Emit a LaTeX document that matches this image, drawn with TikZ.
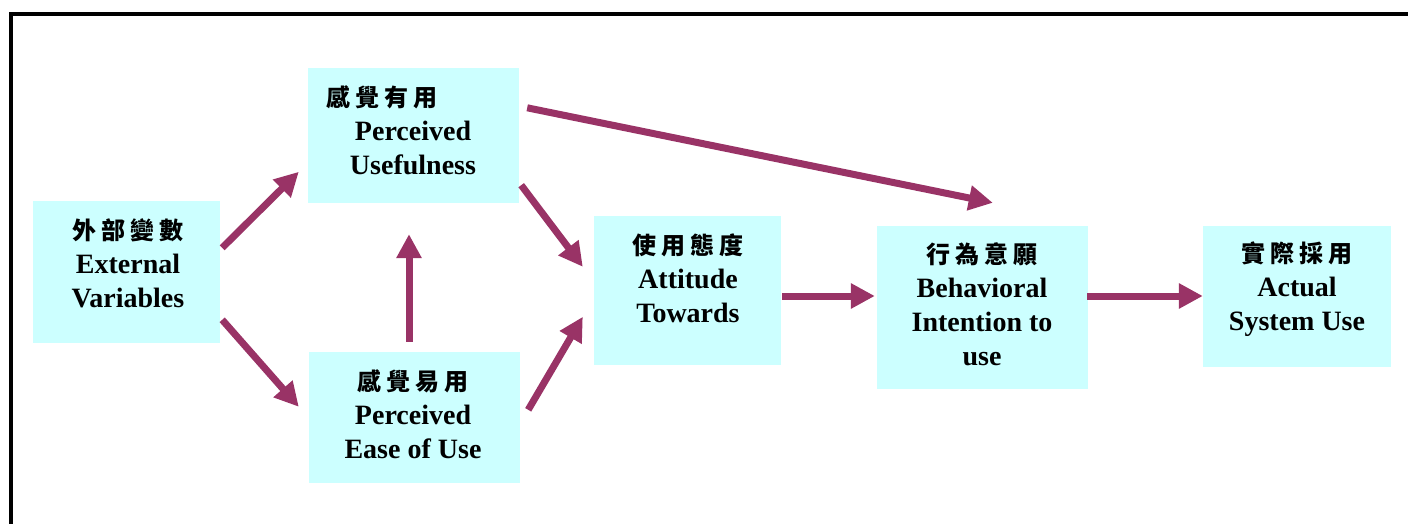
\documentclass[tikz,border=0pt]{standalone}
\usepackage{fontspec}
\setmainfont{Liberation Serif}
\newfontfamily\cjk{Noto Sans CJK TC}
\usetikzlibrary{arrows.meta,calc}
\definecolor{boxcyan}{HTML}{CCFFFF}
\definecolor{linkred}{HTML}{993366}
\newcommand{\zs}{\hspace{5pt}}
\newcommand{\zh}[1]{{\cjk\bfseries\fontsize{24}{34}\selectfont #1}}
\begin{document}
\begin{tikzpicture}[x=1pt,y=-1pt,
  box/.style={rectangle, fill=boxcyan, draw=none, inner sep=0pt},
  lbl/.style={anchor=base, align=center, inner sep=0pt,
    font=\bfseries\fontsize{28}{34}\selectfont},
  link/.style={draw=linkred, line width=7pt,
    -{Triangle[length=24pt,width=24pt]}}]
\useasboundingbox (0,0) rectangle (1408,524);
% frame
\draw[line width=4pt] (11,524) -- (11,14) -- (1408,14);

% boxes
\node[box, minimum width=187pt, minimum height=142pt] (ext)  at (126.5,272) {};
\node[box, minimum width=211pt, minimum height=135pt] (pu)   at (413.5,135.5) {};
\node[box, minimum width=211pt, minimum height=131pt] (peou) at (414.5,417.5) {};
\node[box, minimum width=187pt, minimum height=149pt] (att)  at (687.5,290.5) {};
\node[box, minimum width=211pt, minimum height=163pt] (bi)   at (982.5,307.5) {};
\node[box, minimum width=188pt, minimum height=141pt] (act)  at (1297,296.5) {};

% labels (anchored on the baseline of their last line)
\node[lbl] (ext-t)  at (128,307)  {\zh{外\zs 部\zs 變\zs 數}\\External\\Variables};
\node[lbl] (pu-t)   at (413,175)  {\zh{感\zs 覺\zs 有\zs 用}\hspace*{62pt}\\Perceived\\Usefulness};
\node[lbl] (peou-t) at (413,458)  {\zh{感\zs 覺\zs 易\zs 用}\\Perceived\\Ease of Use};
\node[lbl] (att-t)  at (688,322)  {\zh{使\zs 用\zs 態\zs 度}\\Attitude\\Towards};
\node[lbl] (bi-t)   at (982,365)  {\zh{行\zs 為\zs 意\zs 願}\\Behavioral\\Intention to\\use};
\node[lbl] (act-t)  at (1297,330) {\zh{實\zs 際\zs 採\zs 用}\\Actual\\System Use};

% connectors
\draw[link] ($(ext.north east)+(2,47)$)   -- ($(pu.north west)+(-9,104)$);
\draw[link] ($(ext.north east)+(2,119)$)  -- ($(peou.north west)+(-10,55)$);
\draw[link] ($(peou.north)+(-5.5,-10)$)   -- ($(pu.south)+(-4.5,31)$);
\draw[link] ($(pu.south east)+(2,-18)$)   -- ($(att.north west)+(-11,51)$);
\draw[link] ($(peou.north east)+(8,58)$)  -- ($(att.north west)+(-11,101)$);
\draw[link] ($(pu.north east)+(8,40)$)    -- ($(bi.north west)+(116,-23)$);
\draw[link] ($(att.east)+(1,5.5)$)        -- ($(bi.west)+(-2,-11.5)$);
\draw[link] ($(bi.east)+(-1,-11.5)$)      -- ($(act.west)+(0,-0.5)$);
\end{tikzpicture}
\end{document}
